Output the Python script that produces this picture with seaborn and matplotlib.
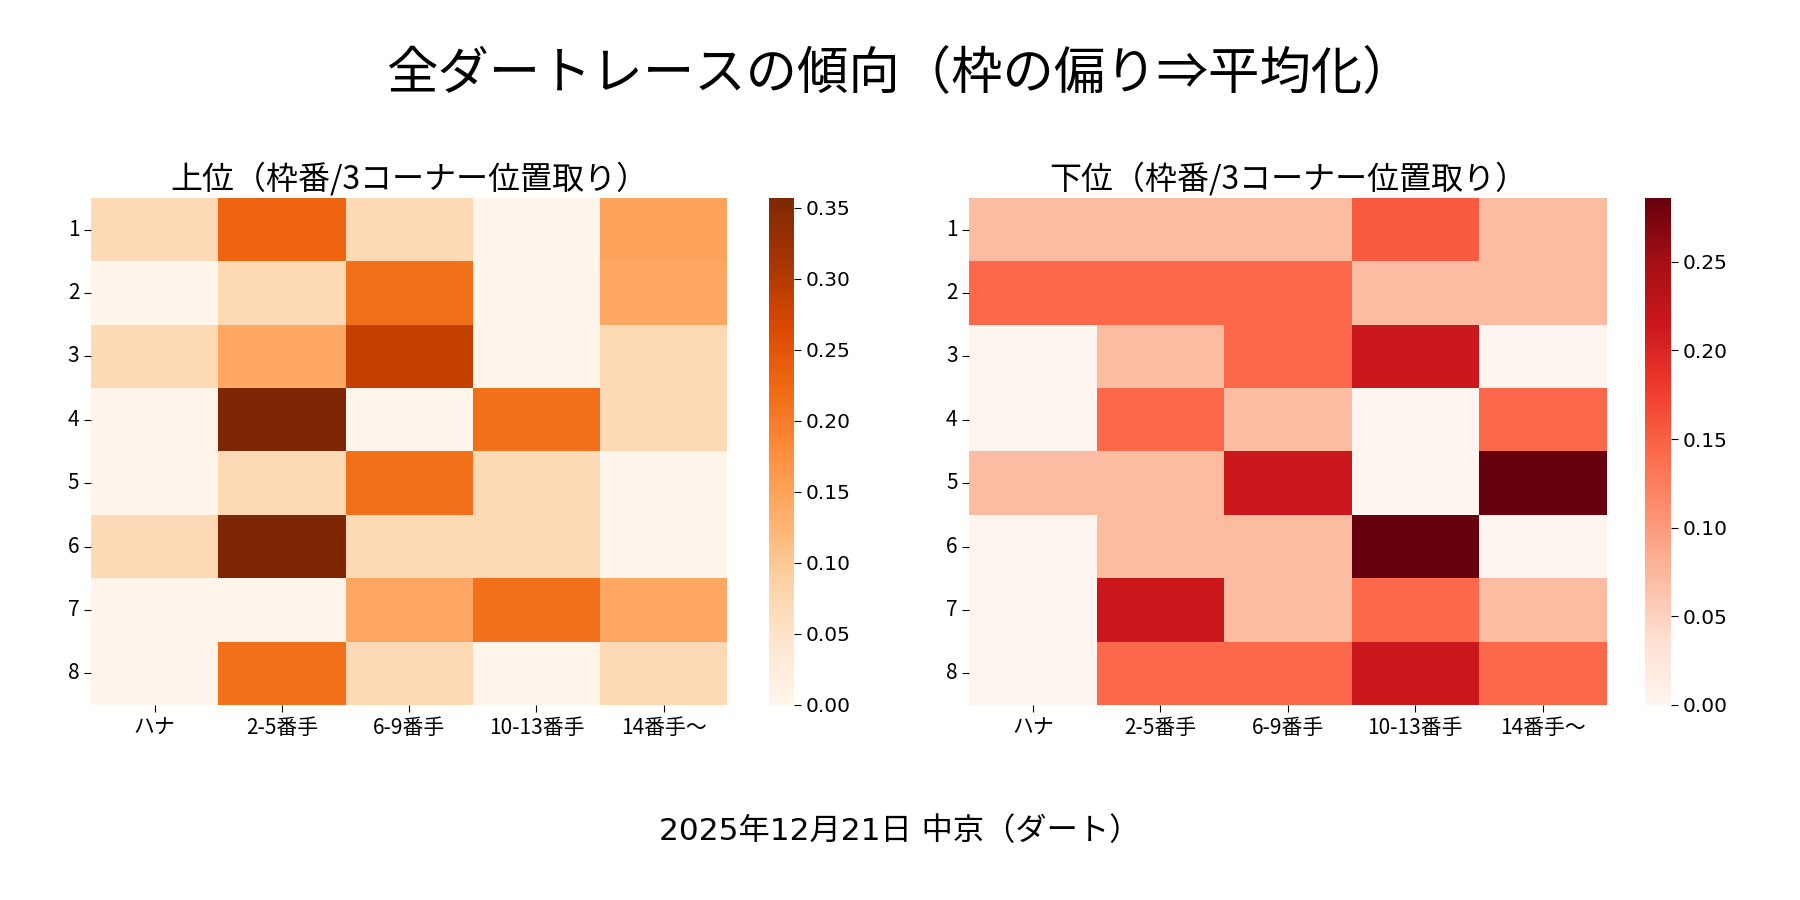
import numpy as np
import pandas as pd
import seaborn as sns
import matplotlib
matplotlib.use('Agg')
import matplotlib.pyplot as plt

# 枠番（行）と3コーナー位置取り（列）
waku = ['1', '2', '3', '4', '5', '6', '7', '8']
ichi = ['ハナ', '2-5番手', '6-9番手', '10-13番手', '14番手～']

# 上位（値は図から読み取り）
joui_1 = [0.071, 0.229, 0.071, 0.000, 0.148]
joui_2 = [0.000, 0.071, 0.214, 0.000, 0.143]
joui_3 = [0.071, 0.143, 0.286, 0.000, 0.071]
joui_4 = [0.000, 0.357, 0.000, 0.214, 0.071]
joui_5 = [0.000, 0.071, 0.214, 0.071, 0.000]
joui_6 = [0.071, 0.357, 0.071, 0.071, 0.000]
joui_7 = [0.000, 0.000, 0.143, 0.214, 0.143]
joui_8 = [0.000, 0.214, 0.071, 0.000, 0.071]

# 下位
kai_1 = [0.071, 0.071, 0.071, 0.155, 0.071]
kai_2 = [0.143, 0.143, 0.143, 0.071, 0.071]
kai_3 = [0.000, 0.071, 0.143, 0.214, 0.000]
kai_4 = [0.000, 0.143, 0.071, 0.000, 0.143]
kai_5 = [0.071, 0.071, 0.214, 0.000, 0.286]
kai_6 = [0.000, 0.071, 0.071, 0.286, 0.000]
kai_7 = [0.000, 0.214, 0.071, 0.143, 0.071]
kai_8 = [0.000, 0.143, 0.143, 0.214, 0.143]

jouiDF = pd.DataFrame([joui_1, joui_2, joui_3, joui_4, joui_5, joui_6, joui_7, joui_8],
                      index=waku, columns=ichi)
kaiDF = pd.DataFrame([kai_1, kai_2, kai_3, kai_4, kai_5, kai_6, kai_7, kai_8],
                     index=waku, columns=ichi)

plt.rcParams['font.family'] = ['Noto Sans CJK JP', 'DejaVu Sans']

fig = plt.figure(figsize=(18, 9), dpi=100)

#-----------------------------ヒートマップの配置-------------------------------
ax1 = fig.add_axes([0.0506, 0.2167, 0.3535, 0.5633])
cax1 = fig.add_axes([0.4270, 0.2167, 0.0139, 0.5633])
ax2 = fig.add_axes([0.5385, 0.2167, 0.3540, 0.5633])
cax2 = fig.add_axes([0.9140, 0.2167, 0.0142, 0.5633])

sns.heatmap(jouiDF, ax=ax1, cbar_ax=cax1, cmap='Oranges', vmin=0)
sns.heatmap(kaiDF, ax=ax2, cbar_ax=cax2, cmap='Reds', vmin=0)

for ax, ttl in [(ax1, '上位（枠番/3コーナー位置取り）'), (ax2, '下位（枠番/3コーナー位置取り）')]:
    ax.set_title(ttl, fontsize=23, pad=7)
    ax.set_xlabel('')
    ax.set_ylabel('')
    ax.tick_params(axis='both', labelsize=15, length=5)
    plt.setp(ax.get_yticklabels(), rotation=0)
    plt.setp(ax.get_xticklabels(), rotation=0)

for cax in [cax1, cax2]:
    cax.tick_params(labelsize=14.5, length=5)
    for lbl in cax.get_yticklabels():
        lbl.set_family('DejaVu Sans')

fig.suptitle('全ダートレースの傾向（枠の偏り⇒平均化）', fontsize=37, y=0.917, va='center')
fig.text(0.5, 0.077, '2025年12月21日 中京（ダート）', ha='center', va='center',
         fontsize=22.5, family=['DejaVu Sans', 'Noto Sans CJK JP'])

plt.savefig('out.png', dpi=100)
